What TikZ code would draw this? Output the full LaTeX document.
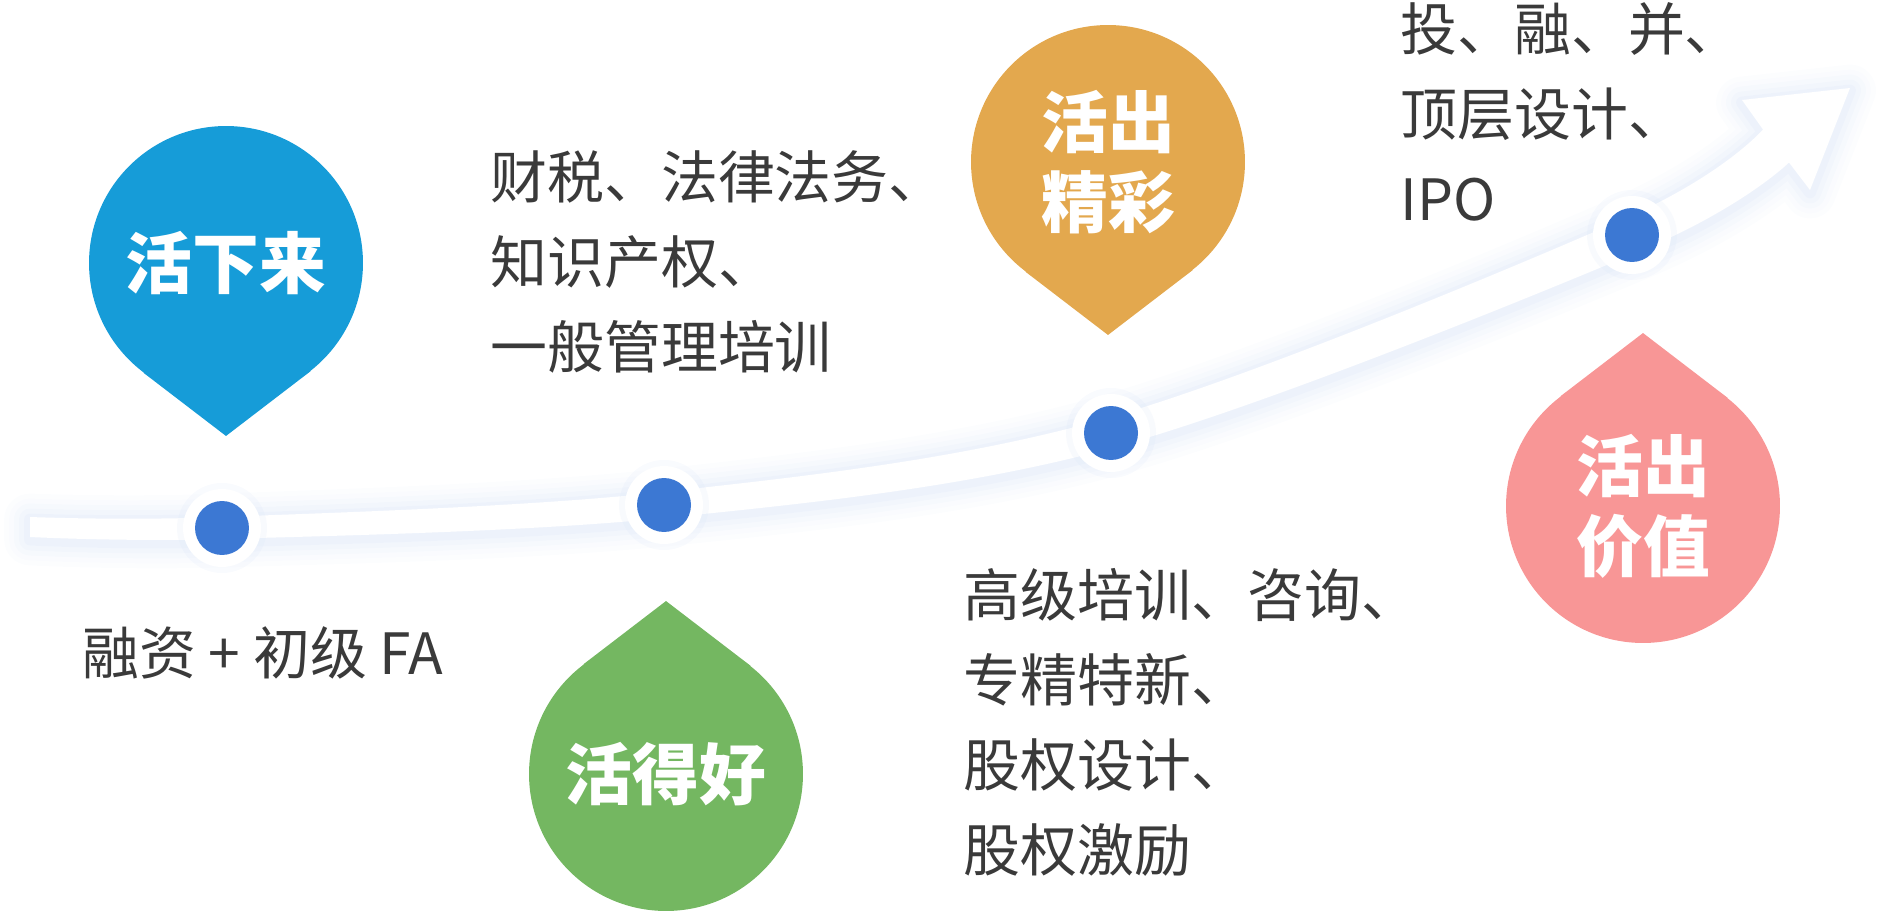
\documentclass[tikz,border=0pt]{standalone}
\usepackage{fontspec}
\newfontfamily\cjk{Noto Sans CJK SC}
\definecolor{dropblue}{HTML}{169CD8}
\definecolor{dropgreen}{HTML}{74B761}
\definecolor{droporange}{HTML}{E3A84E}
\definecolor{droppink}{HTML}{F89696}
\definecolor{dotblue}{HTML}{3C78D3}
\definecolor{glow}{HTML}{CCDBF4}
\definecolor{textgray}{HTML}{3A3A3A}
\newcommand\notefont{\cjk\fontsize{32.4pt}{48.4pt}\selectfont}
\newcommand\dropfont{\cjk\bfseries\fontsize{38pt}{45.5pt}\selectfont}

\begin{document}
\begin{tikzpicture}[
	x=0.02cm, y=-0.02cm,
	drop/.style={circle, fill=#1, inner sep=0pt, minimum size=5.48cm, text=white, font=\dropfont, align=center},
	ring/.style={circle, fill=white, inner sep=0pt, minimum size=1.56cm},
	dot/.style={circle, fill=dotblue, inner sep=0pt, minimum size=1.08cm},
	note/.style={anchor=west, inner sep=0pt, align=left, text=textgray, font=\notefont}
]
	\useasboundingbox (0,0) rectangle (1883,912);

	% the rising band with its arrow head
	\def\band{plot[smooth, tension=0.55] coordinates {(30,517) (221.6,517) (662.6,492.1) (1106,418.6) (1623.6,219.1) (1763,129.5)}
		-- (1742,100) -- (1850,88) -- (1810,190)
		-- plot[smooth, tension=0.55] coordinates {(1789,162.5) (1640.4,250.9) (1114,447.4) (665.4,517.9) (222.4,539) (30,537)} -- cycle}
	\foreach \w/\o in {52/0.05, 42/0.06, 32/0.08, 22/0.1, 12/0.12}
		\draw[glow, line width=\w*0.567pt, draw opacity=\o, line join=round, yshift=-0.05cm] \band;
	\fill[white] \band;

	% stage dots
	\foreach \n/\x/\y in {1/222/528, 2/664/505, 3/1111/433, 4/1632/235} {
		\fill[glow, opacity=0.12] (\x,\y) circle[radius=45];
		\node[ring] (r\n) at (\x,\y) {};
		\node[dot] (d\n) at (r\n) {};
	}

	% drops
	\node[drop=dropblue] (live) at (226,263) {活下来};
	\fill[dropblue] (live.-52.4) -- ([yshift=-3.46cm]live.center) -- (live.-127.6) -- cycle;
	\node[drop=droporange] (shine) at (1108,162) {活出\\精彩};
	\fill[droporange] (shine.-52.4) -- ([yshift=-3.46cm]shine.center) -- (shine.-127.6) -- cycle;
	\node[drop=dropgreen] (good) at (666,774) {活得好};
	\fill[dropgreen] (good.52.4) -- ([yshift=3.46cm]good.center) -- (good.127.6) -- cycle;
	\node[drop=droppink] (value) at (1643,506) {活出\\价值};
	\fill[droppink] (value.52.4) -- ([yshift=3.46cm]value.center) -- (value.127.6) -- cycle;

	% notes
	\node[note] (fund) at (82,653) {融资 + 初级 FA};
	\node[note] (law) at (490,262) {财税、法律法务、\\知识产权、\\一般管理培训};
	\node[note] (adv) at (963,722) {高级培训、咨询、\\专精特新、\\股权设计、\\股权激励};
	\node[note] (ipo) at (1400,112) {投、融、并、\\顶层设计、\\IPO};
\end{tikzpicture}
\end{document}
